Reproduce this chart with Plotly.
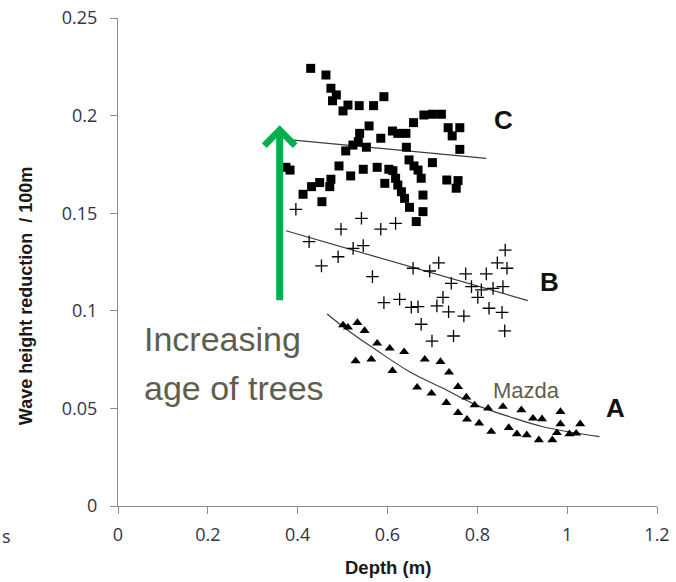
import plotly.graph_objects as go

# ---- data ----
# C: squares
c_x = [0.429, 0.463, 0.474, 0.486, 0.4775, 0.512, 0.537, 0.501, 0.569, 0.592,
       0.538, 0.559, 0.585, 0.611, 0.623, 0.641, 0.658, 0.681, 0.700, 0.720,
       0.735, 0.761, 0.744, 0.761, 0.642, 0.535, 0.523, 0.507, 0.553, 0.383,
       0.374, 0.492, 0.518, 0.546, 0.577, 0.603, 0.612, 0.594, 0.618, 0.623,
       0.631, 0.638, 0.649, 0.679, 0.679, 0.664, 0.648, 0.659, 0.668, 0.675,
       0.700, 0.732, 0.757, 0.753, 0.412, 0.431, 0.449, 0.474, 0.4715, 0.454]
c_y = [0.2242, 0.2208, 0.2140, 0.2106, 0.2076, 0.2054, 0.2051, 0.2024, 0.2051, 0.2097,
       0.1909, 0.1947, 0.1884, 0.1921, 0.1909, 0.1909, 0.1964, 0.2003, 0.2007, 0.2007,
       0.1938, 0.1938, 0.1896, 0.1827, 0.1838, 0.1866, 0.1849, 0.1819, 0.1838, 0.1721,
       0.1735, 0.1742, 0.1691, 0.1725, 0.1735, 0.1725, 0.1718, 0.1653, 0.1679, 0.1644,
       0.1610, 0.1576, 0.1530, 0.1593, 0.1508, 0.1457, 0.1773, 0.1742, 0.1721, 0.1679,
       0.1759, 0.1670, 0.1667, 0.1628, 0.1597, 0.1636, 0.1657, 0.1674, 0.1636, 0.1559]

# B: crosses
b_x = [0.396, 0.542, 0.4965, 0.585, 0.618, 0.4255, 0.5235, 0.546, 0.490, 0.453,
       0.5665, 0.657, 0.694, 0.714, 0.742, 0.774, 0.820, 0.787, 0.809, 0.801,
       0.835, 0.857, 0.8445, 0.866, 0.862, 0.7235, 0.710, 0.736, 0.770, 0.826,
       0.855, 0.861, 0.592, 0.627, 0.653, 0.668, 0.675, 0.699, 0.747]
b_y = [0.1520, 0.1474, 0.1418, 0.1418, 0.1448, 0.1354, 0.1320, 0.1334, 0.1277, 0.1230,
       0.1175, 0.1218, 0.1204, 0.1246, 0.1141, 0.1189, 0.1189, 0.1124, 0.1107, 0.1069,
       0.1115, 0.1124, 0.1246, 0.1218, 0.1311, 0.1069, 0.1025, 0.0995, 0.0973, 0.1013,
       0.0992, 0.0897, 0.1042, 0.1059, 0.1018, 0.1021, 0.0931, 0.0845, 0.0871]

# A: triangles
a_x = [0.501, 0.512, 0.533, 0.549, 0.577, 0.605, 0.637, 0.529, 0.564, 0.611,
       0.683, 0.718, 0.737, 0.757, 0.666, 0.698, 0.7755, 0.731, 0.794, 0.824,
       0.857, 0.898, 0.924, 0.944, 0.985, 0.985, 1.029, 0.757, 0.777, 0.804,
       0.831, 0.870, 0.888, 0.910, 0.937, 0.967, 0.977, 1.005, 1.020]
a_y = [0.0927, 0.0915, 0.0939, 0.0898, 0.0833, 0.0808, 0.0790, 0.0743, 0.0751, 0.0693,
       0.0751, 0.0739, 0.0685, 0.0611, 0.0608, 0.0577, 0.0557, 0.0529, 0.0517, 0.0500,
       0.0509, 0.0492, 0.0449, 0.0446, 0.0483, 0.0420, 0.0420, 0.0478, 0.0444, 0.0424,
       0.0381, 0.0401, 0.0369, 0.0364, 0.0338, 0.0338, 0.0375, 0.0369, 0.0372]

# trend lines
trend_c_x = [0.374, 0.820]
trend_c_y = [0.1878, 0.1781]
trend_b_x = [0.374, 0.9125]
trend_b_y = [0.1410, 0.1052]
trend_a_x = [0.4655, 0.516, 0.575, 0.649, 0.7235, 0.798, 0.872, 0.946, 1.072]
trend_a_y = [0.0984, 0.0893, 0.0799, 0.0688, 0.0603, 0.0517, 0.0457, 0.0406, 0.0355]

x_ticks = [0, 0.2, 0.4, 0.6, 0.8, 1.0, 1.2]
x_ticktext = ["0", "0.2", "0.4", "0.6", "0.8", "1", "1.2"]
y_ticks = [0, 0.05, 0.1, 0.15, 0.2, 0.25]
y_ticktext = ["0", "0.05", "0.1", "0.15", "0.2", "0.25"]

fig = go.Figure()

line_col = "#3c3c3c"
fig.add_trace(go.Scatter(x=trend_c_x, y=trend_c_y, mode="lines",
                         line=dict(color=line_col, width=1.2), hoverinfo="skip"))
fig.add_trace(go.Scatter(x=trend_b_x, y=trend_b_y, mode="lines",
                         line=dict(color=line_col, width=1.2), hoverinfo="skip"))
fig.add_trace(go.Scatter(x=trend_a_x, y=trend_a_y, mode="lines",
                         line=dict(color=line_col, width=1.2, shape="spline"), hoverinfo="skip"))

fig.add_trace(go.Scatter(x=c_x, y=c_y, mode="markers",
                         marker=dict(symbol="square", size=9, color="black",
                                     line=dict(width=0))))
fig.add_trace(go.Scatter(x=b_x, y=b_y, mode="markers",
                         marker=dict(symbol="cross-thin", size=9, color="black",
                                     line=dict(width=1.3, color="black"))))
fig.add_trace(go.Scatter(x=a_x, y=a_y, mode="markers",
                         marker=dict(symbol="triangle-up", size=8.8, color="black",
                                     line=dict(width=0))))

tick_font = dict(family="Open Sans, Liberation Sans, sans-serif", size=18, color="#33334a")
axis_col = "#8c8c8c"

fig.update_xaxes(range=[0, 1.2], tickvals=x_ticks, ticktext=x_ticktext,
                 showline=True, linecolor=axis_col, linewidth=1,
                 ticks="outside", ticklen=7, tickcolor=axis_col, tickwidth=1,
                 ticklabelstandoff=5, automargin=False,
                 showgrid=False, zeroline=False, tickfont=tick_font)
fig.update_yaxes(range=[0, 0.25], tickvals=y_ticks, ticktext=y_ticktext,
                 showline=True, linecolor=axis_col, linewidth=1,
                 ticks="outside", ticklen=7, tickcolor=axis_col, tickwidth=1,
                 ticklabelstandoff=9, automargin=False,
                 showgrid=False, zeroline=False, tickfont=tick_font)

olive = "#5e5e4e"
sans = "Liberation Sans, Arial, sans-serif"
title_font = dict(family=sans, color="#1a1a1a")
annotations = [
    # axis titles
    dict(x=0.5, y=-0.127, xref="paper", yref="paper", text="<b>Depth (m)</b>",
         showarrow=False, xanchor="center", yanchor="middle",
         font=dict(size=18.5, **title_font)),
    dict(x=-0.1707, y=0.43, xref="paper", yref="paper",
         text="<b>Wave height reduction \u00a0/ 100m</b>", textangle=-90,
         showarrow=False, xanchor="center", yanchor="middle",
         font=dict(size=18, **title_font)),
    # green arrow
    dict(x=0.360, y=0.195, ax=0.360, ay=0.1047, xref="x", yref="y", axref="x", ayref="y",
         showarrow=True, arrowhead=4, arrowsize=0.85, arrowwidth=7, arrowcolor="#00b050",
         text=""),
    dict(x=0.0545, y=0.0858, xref="x", yref="y", text="Increasing", showarrow=False,
         xanchor="left", yanchor="middle", font=dict(family=sans, size=34, color=olive)),
    dict(x=0.0545, y=0.0605, xref="x", yref="y", text="age of trees", showarrow=False,
         xanchor="left", yanchor="middle", font=dict(family=sans, size=34, color=olive)),
    dict(x=0.910, y=0.0594, xref="x", yref="y", text="Mazda", showarrow=False,
         font=dict(family=sans, size=22, color=olive)),
    dict(x=0.858, y=0.1977, xref="x", yref="y", text="<b>C</b>", showarrow=False,
         font=dict(family=sans, size=26, color="#111111")),
    dict(x=0.961, y=0.1148, xref="x", yref="y", text="<b>B</b>", showarrow=False,
         font=dict(family=sans, size=26, color="#111111")),
    dict(x=1.108, y=0.0502, xref="x", yref="y", text="<b>A</b>", showarrow=False,
         font=dict(family=sans, size=26, color="#111111")),
    dict(x=-0.219, y=-0.061, xref="paper", yref="paper", text="s", showarrow=False,
         xanchor="left", yanchor="middle",
         font=dict(family="Open Sans, sans-serif", size=18, color="#33334a")),
]
fig.update_layout(
    width=676, height=582,
    margin=dict(l=118, r=19, t=18, b=76),
    paper_bgcolor="white", plot_bgcolor="white",
    showlegend=False,
    annotations=annotations,
)

fig.write_html(
    "out.html",
    config={"displayModeBar": False},
    post_script="document.body.style.margin='0';document.body.style.padding='0';"
                "document.documentElement.style.overflow='hidden';",
)
